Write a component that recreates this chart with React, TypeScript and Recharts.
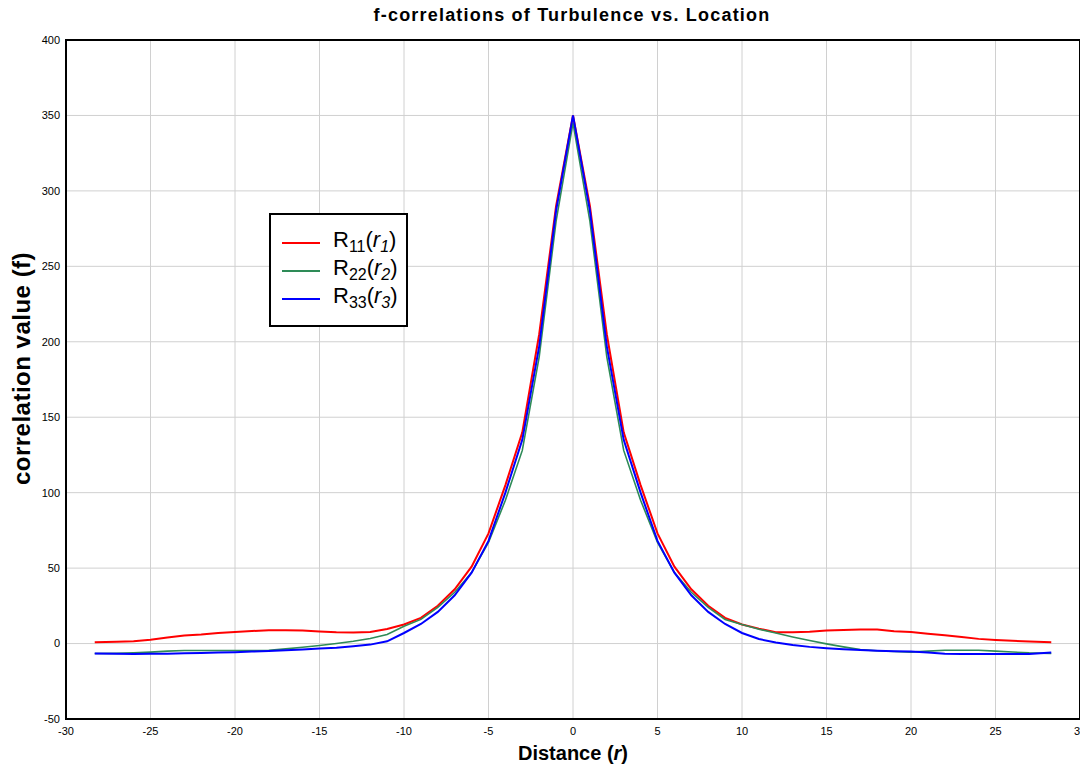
import { LineChart, Line, XAxis, YAxis, CartesianGrid, ReferenceArea, Legend } from 'recharts'

// distance r, one point per unit plus the two end points
const distances = [
  -28.3, -27, -26, -25, -24, -23, -22, -21, -20, -19, -18, -17, -16, -15, -14, -13, -12, -11, -10,
  -9, -8, -7, -6, -5, -4, -3, -2, -1, 0, 1, 2, 3, 4, 5, 6, 7, 8, 9,
  10, 11, 12, 13, 14, 15, 16, 17, 18, 19, 20, 21, 22, 23, 24, 25, 26, 27, 28.3,
]

const r11 = [
  0.9, 1.2, 1.5, 2.6, 4.0, 5.3, 6.0, 7.0, 7.7, 8.3, 8.8, 8.9, 8.6, 8.0, 7.5, 7.4, 7.7, 9.7, 12.6,
  17, 25, 36, 51, 73, 105, 140, 205, 290, 350, 290, 205, 140, 105, 73, 51, 36, 25, 17,
  12.6, 9.9, 7.5, 7.5, 7.9, 8.6, 9.0, 9.3, 9.3, 8.2, 7.7, 6.5, 5.5, 4.3, 3.1, 2.4, 1.8, 1.3, 0.9,
]

const r22 = [
  -6.6, -6.5, -6.2, -5.7, -5.0, -4.6, -4.6, -4.6, -4.6, -4.6, -4.5, -3.5, -2.5, -1.3, 0, 1.5, 3.3, 6.0, 11.5,
  16, 24, 34, 47, 67, 95, 128, 190, 280, 345, 280, 190, 128, 95, 67, 47, 34, 24, 16,
  12.6, 9.5, 7.0, 4.4, 2.0, -0.2, -2.2, -4.0, -4.8, -5.3, -5.7, -5.0, -4.4, -4.4, -4.4, -5.0, -5.6, -6.2, -6.6,
]

const r33 = [
  -6.6, -6.8, -7.0, -6.8, -6.7, -6.5, -6.3, -6.0, -5.7, -5.3, -5.0, -4.5, -4.0, -3.3, -2.7, -1.8, -0.7, 1.5, 7,
  13, 21, 32, 47, 68, 100, 135, 197, 287, 350, 287, 197, 135, 100, 68, 47, 32, 21, 13,
  7, 3, 0.7, -1.0, -2.2, -3.1, -3.8, -4.3, -4.8, -5.1, -5.3, -6.0, -6.8, -7.0, -7.0, -7.0, -7.0, -7.0, -6.0,
]

const xTicks = [-30, -25, -20, -15, -10, -5, 0, 5, 10, 15, 20, 25, 30]
const yTicks = [-50, 0, 50, 100, 150, 200, 250, 300, 350, 400]

const series = [
  { key: 'r11', idx: '11', sub: '1', color: '#ff0000', width: 2 },
  { key: 'r22', idx: '22', sub: '2', color: '#2e8b57', width: 1.6 },
  { key: 'r33', idx: '33', sub: '3', color: '#0000ff', width: 2 },
]

const data = distances.map((r, i) => ({ r, r11: r11[i], r22: r22[i], r33: r33[i] }))

const FONT = 'Arial, "Liberation Sans", sans-serif'

function LegendBox({ payload }: any) {
  return (
    <div
      style={{
        border: '2px solid #000',
        background: '#fff',
        width: 139,
        height: 114,
        boxSizing: 'border-box',
        paddingTop: 14,
        fontFamily: FONT,
      }}
    >
      {(payload ?? []).map((p: any) => {
        const s = series.find((x) => x.key === p.dataKey)
        if (!s) return null
        return (
          <div key={s.key} style={{ display: 'flex', alignItems: 'center', height: 28 }}>
            <div style={{ marginLeft: 11, width: 38, height: 2, background: s.color }} />
            <div style={{ marginLeft: 13, fontSize: 22, lineHeight: '28px', color: '#000', whiteSpace: 'nowrap' }}>
              R<sub style={{ fontSize: 16, verticalAlign: -5 }}>{s.idx}</sub>(
              <i>r<sub style={{ fontSize: 16, verticalAlign: -5 }}>{s.sub}</sub></i>)
            </div>
          </div>
        )
      })}
    </div>
  )
}

function YLabel({ viewBox }: any) {
  const cy = viewBox.y + viewBox.height / 2 - 11
  return (
    <text
      x={0}
      y={0}
      transform={`translate(${13}, ${cy}) rotate(-90)`}
      textAnchor="middle"
      dominantBaseline="central"
      style={{ fontFamily: FONT, fontSize: 24, fontWeight: 'bold', fill: '#000', letterSpacing: 0.5 }}
    >
      correlation value (f)
    </text>
  )
}

function XLabel({ viewBox }: any) {
  const cx = viewBox.x + viewBox.width / 2
  return (
    <text
      x={cx}
      y={viewBox.y + 41}
      textAnchor="middle"
      style={{ fontFamily: FONT, fontSize: 20, fontWeight: 'bold', fill: '#000' }}
    >
      Distance (<tspan fontStyle="italic">r</tspan>)
    </text>
  )
}

export default function App() {
  return (
    <div style={{ position: 'relative', width: 1080, height: 759 }}>
      <style>{'svg.recharts-surface { overflow: visible; }'}</style>
      <div
        style={{
          position: 'absolute',
          left: 564,
          top: -3,
          transform: 'translateX(-50%)',
          whiteSpace: 'nowrap',
          fontFamily: FONT,
          fontWeight: 'bold',
          fontSize: 18,
          letterSpacing: 1.2,
          lineHeight: '20px',
          zIndex: 1,
        }}
      >
        f-correlations of Turbulence vs. Location
      </div>
      <LineChart width={1080} height={759} data={data} margin={{ top: 32, right: 8, left: 0, bottom: 0 }}>
        <CartesianGrid stroke="#d0d0d0" strokeWidth={1} />
        <XAxis
          dataKey="r"
          type="number"
          domain={[-30, 30]}
          ticks={xTicks}
          interval={0}
          tickLine={false}
          axisLine={false}
          height={48}
          tick={{ fontSize: 11, fill: '#000', fontFamily: FONT }}
          label={<XLabel />}
        />
        <YAxis
          type="number"
          domain={[-50, 400]}
          ticks={yTicks}
          interval={0}
          tickLine={false}
          axisLine={false}
          width={58}
          tickMargin={0}
          tick={{ fontSize: 11, fill: '#000', fontFamily: FONT }}
          label={<YLabel />}
        />
        <ReferenceArea x1={-30} x2={30} y1={-50} y2={400} fill="none" stroke="#000" strokeWidth={2} ifOverflow="visible" />
        {series.map((s) => (
          <Line
            key={s.key}
            dataKey={s.key}
            type="linear"
            stroke={s.color}
            strokeWidth={s.width}
            dot={false}
            activeDot={false}
            isAnimationActive={false}
          />
        ))}
        <Legend
          layout="horizontal"
          verticalAlign="middle"
          align="center"
          content={<LegendBox />}
          wrapperStyle={{ position: 'absolute', left: 261, top: 205, width: 'auto', height: 'auto' }}
        />
      </LineChart>
    </div>
  )
}
